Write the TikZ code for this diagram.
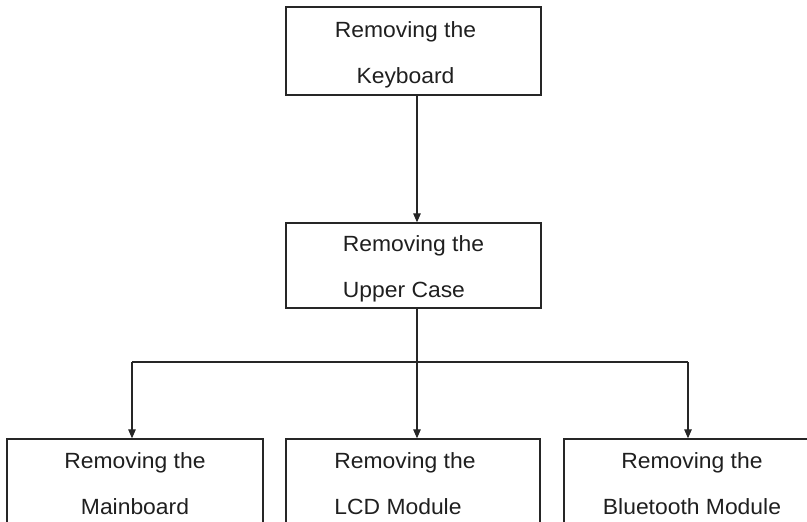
\documentclass[tikz,border=0pt]{standalone}
\usepackage{fontspec}
\setmainfont{Liberation Sans}[FakeStretch=1.04]
\usetikzlibrary{arrows.meta}
\newcommand{\firstln}{\rule{0pt}{23pt}}
\newcommand{\lastln}{\rule[-5pt]{0pt}{5pt}}
\newcommand{\padr}{\hspace*{16pt}}
\tikzset{
  stepbox/.style={draw=black!85, line width=1.3pt, inner sep=0pt,
    minimum width=255pt, minimum height=86pt, text=black!88,
    font=\fontsize{22}{46}\selectfont, align=center},
  conn/.style={draw=black!85, line width=1.2pt},
  arr/.style={conn, -{Triangle[length=9pt,width=7.5pt]}}
}
\begin{document}
\begin{tikzpicture}[x=1pt,y=-1pt]
\useasboundingbox (0,0) rectangle (807,522);
\clip (0,0) rectangle (807,522);
\node[stepbox, minimum height=88pt] (k) at (413.5,51) {\firstln Removing the\padr\\Keyboard\padr\lastln};
\node[stepbox, minimum height=85pt, align=left] (u) at (413.5,265.5) {\firstln Removing the\\Upper Case\lastln};
\node[stepbox, minimum width=256pt] (b1) at (135,482) {\firstln Removing the\\Mainboard\lastln};
\node[stepbox, minimum width=254pt, align=left] (b2) at (413,482) {\firstln Removing the\padr\\LCD Module\lastln};
\node[stepbox, minimum width=256pt] (b3) at (692,482) {\firstln Removing the\\Bluetooth Module\lastln};
\coordinate (j) at (417,362);
\coordinate (jl) at (132,362);
\coordinate (jr) at (688,362);
\draw[arr] (k.south -| j) -- (u.north -| j);
\draw[conn] (u.south -| j) -- (j);
\draw[conn] (jl) -- (jr);
\draw[arr] (jl) -- (jl |- b1.north);
\draw[arr] (j) -- (j |- b2.north);
\draw[arr] (jr) -- (jr |- b3.north);
\end{tikzpicture}
\end{document}
